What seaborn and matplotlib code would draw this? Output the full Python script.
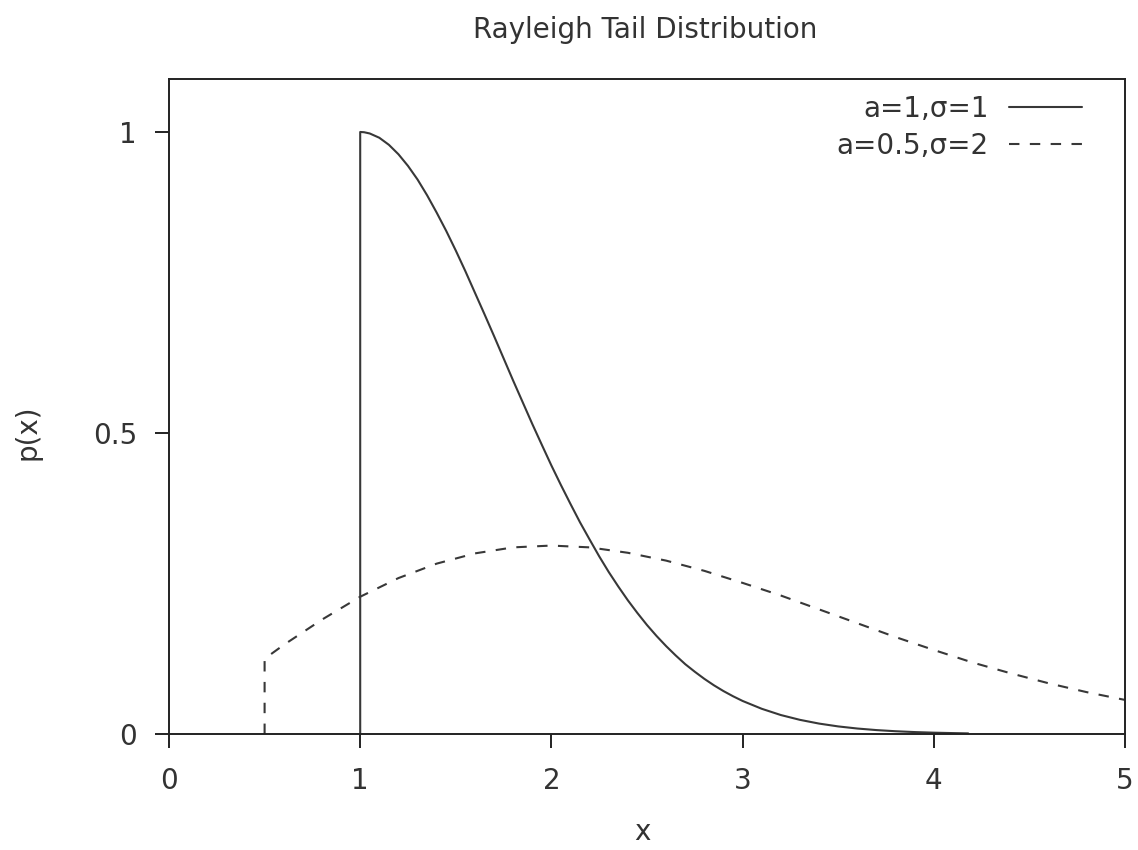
import matplotlib
matplotlib.use("Agg")
import matplotlib.pyplot as plt
import seaborn as sns
import pandas as pd

# Series 1: a=1, sigma=1
x1 = [1.0, 1.0, 1.02, 1.05, 1.1, 1.15, 1.2, 1.25, 1.3, 1.35, 1.4, 1.45, 1.5, 1.55,
      1.6, 1.65, 1.7, 1.75, 1.8, 1.85, 1.9, 1.95, 2.0, 2.05, 2.1, 2.15, 2.2, 2.25,
      2.3, 2.35, 2.4, 2.45, 2.5, 2.55, 2.6, 2.65, 2.7, 2.75, 2.8, 2.85, 2.9, 2.95,
      3.0, 3.1, 3.2, 3.3, 3.4, 3.5, 3.6, 3.7, 3.8, 3.9, 4.0, 4.1, 4.18]
y1 = [0.0, 1.0, 0.9996, 0.9975, 0.9904, 0.9787, 0.963, 0.9436, 0.921, 0.8948,
      0.866, 0.8356, 0.803, 0.7688, 0.733, 0.6973, 0.661, 0.624, 0.587, 0.551,
      0.515, 0.4803, 0.446, 0.4134, 0.382, 0.3514, 0.323, 0.2951, 0.269, 0.2449,
      0.222, 0.2009, 0.181, 0.1628, 0.146, 0.1305, 0.116, 0.1034, 0.0916, 0.0809,
      0.0713, 0.0627, 0.0549, 0.0419, 0.0315, 0.0235, 0.0173, 0.0126, 0.0091,
      0.0065, 0.0046, 0.0032, 0.0022, 0.0015, 0.0010]

# Series 2: a=0.5, sigma=2
x2 = [0.5, 0.5, 0.6, 0.8, 1.0, 1.2, 1.4, 1.6, 1.8, 2.0, 2.2, 2.4, 2.6, 2.8, 3.0,
      3.2, 3.4, 3.6, 3.8, 4.0, 4.2, 4.4, 4.6, 4.8, 5.0]
y2 = [0.0, 0.125, 0.148, 0.190, 0.228, 0.259, 0.283, 0.300, 0.310, 0.313, 0.310,
      0.301, 0.288, 0.271, 0.251, 0.230, 0.207, 0.184, 0.161, 0.1396, 0.119,
      0.101, 0.0843, 0.0695, 0.0566]

labels = ["a=1,σ=1", "a=0.5,σ=2"]
xticks = [0, 1, 2, 3, 4, 5]
yticks = [0, 0.5, 1]
yticklabels = ["0", "0.5", "1"]

sns.set_style("ticks")
plt.rcParams["font.family"] = ["DejaVu Sans"]
TXT = "#333333"
LINE = "#383838"
FS = 20

df1 = pd.DataFrame({"x": x1, "y": y1})
df2 = pd.DataFrame({"x": x2, "y": y2})

fig = plt.figure(figsize=(11.38, 8.5), dpi=100)
ax = fig.add_axes([169 / 1138, 1 - 734 / 850, (1125 - 169) / 1138, (734 - 79) / 850])

sns.lineplot(data=df1, x="x", y="y", sort=False, estimator=None, ax=ax,
             color=LINE, linewidth=1.5, label=labels[0])
sns.lineplot(data=df2, x="x", y="y", sort=False, estimator=None, ax=ax,
             color=LINE, linewidth=1.5, linestyle=(0, (5, 5)), label=labels[1])

ax.set_xlim(0, 5)
ax.set_ylim(0, 1.088)
ax.set_xticks(xticks)
ax.set_xticklabels([str(t) for t in xticks])
ax.set_yticks(yticks)
ax.set_yticklabels(yticklabels)

for s in ax.spines.values():
    s.set_visible(True)
    s.set_color("#222222")
    s.set_linewidth(1.4)

ax.tick_params(axis="both", direction="out", length=10, width=1.4, colors="#222222",
               labelcolor=TXT, labelsize=FS)
ax.tick_params(axis="x", pad=14)
ax.tick_params(axis="y", pad=13)

ax.set_xlabel("x", fontsize=FS, color=TXT)
ax.set_ylabel("p(x)", fontsize=FS, color=TXT)
ax.yaxis.set_label_coords(-0.133, 0.46)
ax.xaxis.set_label_coords(0.495, -0.128)
fig.text(0.567, 1 - 30 / 850, "Rayleigh Tail Distribution", ha="center", va="center",
         fontsize=FS, color=TXT)

leg = ax.legend(loc="upper right", frameon=False, fontsize=FS, markerfirst=False,
                handlelength=2.6, handletextpad=0.75, borderaxespad=0.3,
                labelspacing=0.3, bbox_to_anchor=(0.975, 1.005))
for t in leg.get_texts():
    t.set_color(TXT)
    t.set_ha("right")

fig.savefig("out.png", dpi=100, facecolor="white")
